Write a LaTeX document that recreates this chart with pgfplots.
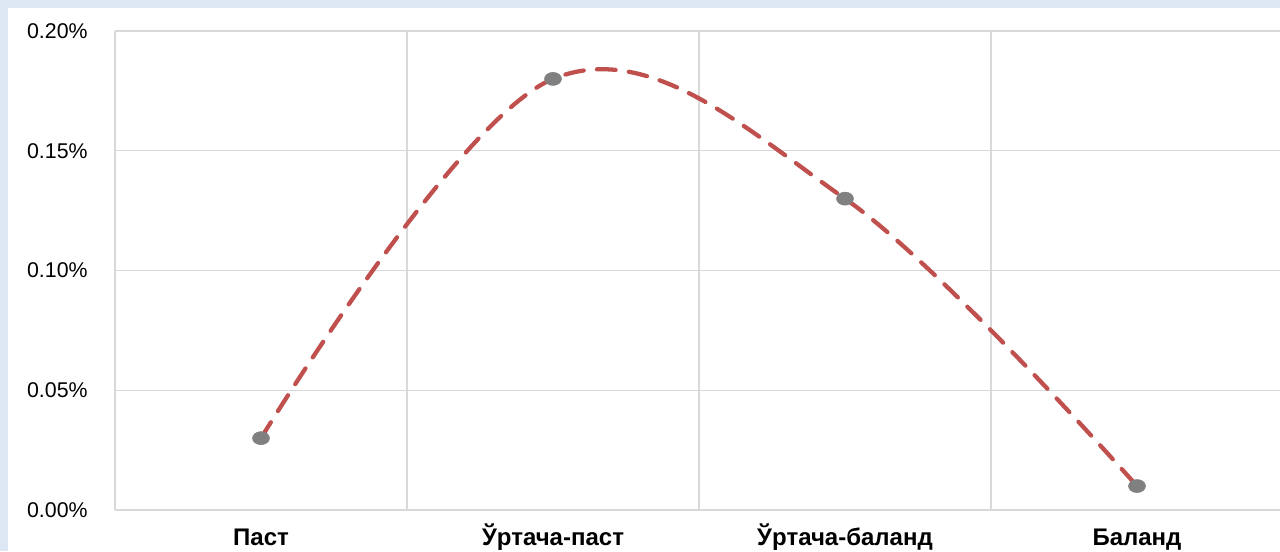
\documentclass[border=0pt]{standalone}
\usepackage{pgfplots}
\pgfplotsset{compat=1.18}
\usepackage{fontspec}
\setmainfont{Liberation Sans}
\definecolor{frameblue}{HTML}{DEE8F4}
\definecolor{gridgray}{HTML}{D9D9D9}
\definecolor{lineRed}{HTML}{C0504D}
\definecolor{markGray}{HTML}{808080}

\begin{document}
\begin{tikzpicture}
% picture is 1280x551 px at 0.75pt per px
\path[use as bounding box] (0,0) rectangle (960pt,413.25pt);
\fill[frameblue] (0,0) rectangle (960pt,413.25pt);
\fill[white] (6pt,0) rectangle (960pt,407.25pt);

\begin{axis}[
    at={(86.25pt,30.75pt)}, anchor=south west,
    scale only axis,
    width=876pt, height=359.25pt,
    xmin=0, xmax=4,
    ymin=0, ymax=0.2,
    axis line style={draw=none},
    major tick length=0pt, minor tick length=0pt,
    xtick={0.5,1.5,2.5,3.5},
    xticklabels={Паст, Ўртача-паст, Ўртача-баланд, Баланд},
    minor xtick={0,1,2,3,4},
    xminorgrids=true, xmajorgrids=false,
    ytick={0,0.05,0.1,0.15,0.2},
    ymajorgrids=true,
    grid style={draw=gridgray, line width=0.9pt},
    minor grid style={draw=gridgray, line width=0.9pt},
    /pgf/number format/assume math mode=true,
    yticklabel={\pgfmathprintnumber[fixed,fixed zerofill,precision=2]{\tick}\%},
    yticklabel style={font=\fontsize{16}{19}\selectfont, anchor=east, xshift=-17pt},
    xticklabel style={font=\fontsize{18}{21}\selectfont\bfseries, anchor=base, yshift=-26.25pt},
    clip=false,
]
% smoothed dashed series
\addplot[lineRed, line width=3.2pt, line cap=round, dash pattern=on 14pt off 10pt,
    smooth, tension=0.6]
    coordinates {(0.5,0.03) (1.5,0.18) (2.5,0.13) (3.5,0.01)};
% markers
\addplot[only marks, mark=*, mark size=4.9pt, mark options={fill=markGray, draw=markGray, xscale=1.3}]
    coordinates {(0.5,0.03) (1.5,0.18) (2.5,0.13) (3.5,0.01)};
\end{axis}
\end{tikzpicture}
\end{document}
